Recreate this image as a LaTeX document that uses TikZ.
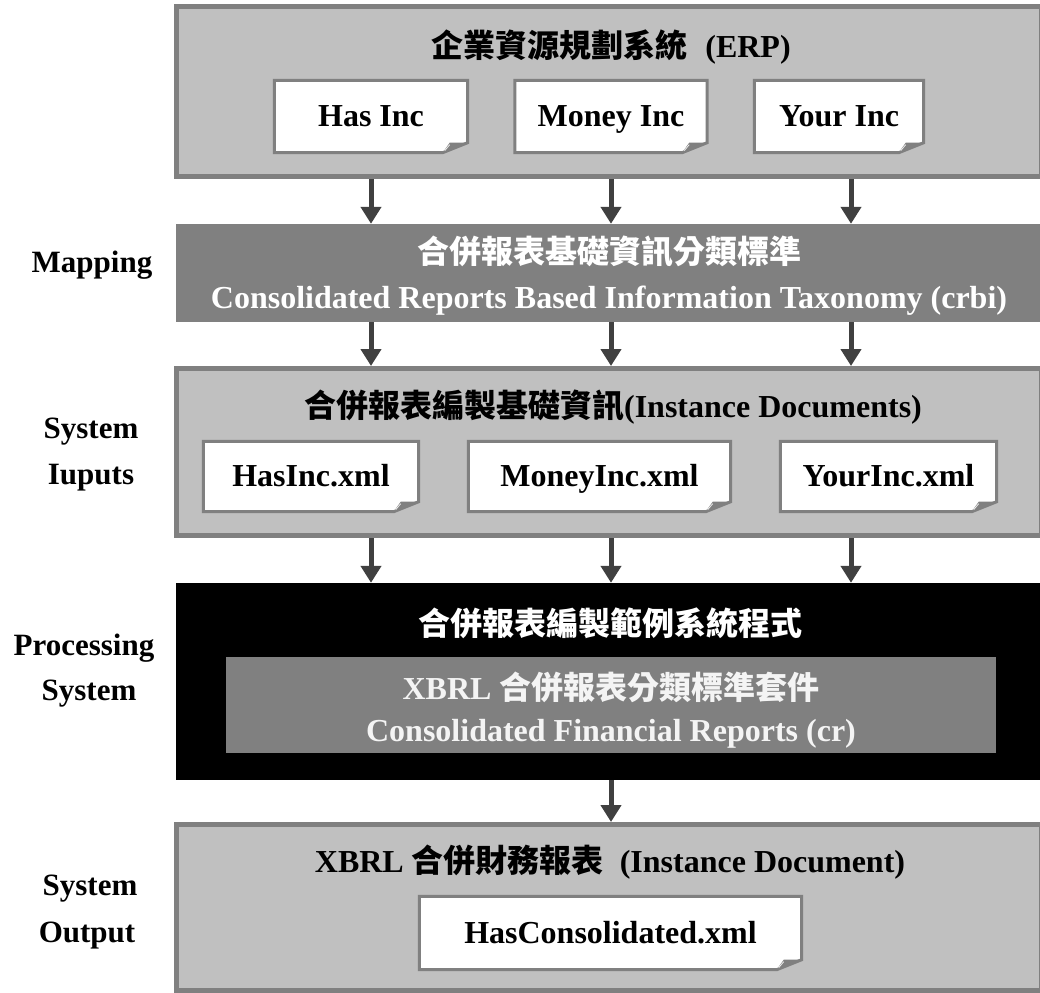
\documentclass[tikz,border=0pt]{standalone}
\usepackage{fontspec}
\setmainfont{Liberation Serif}
\newfontfamily\cjkfont{Noto Sans CJK TC}
\usetikzlibrary{arrows.meta}
\newcommand\zht[1]{{\cjkfont\bfseries #1}}
\definecolor{lightpanel}{HTML}{C0C0C0}
\definecolor{edge}{HTML}{808080}
\definecolor{arrowgray}{HTML}{404040}
\definecolor{paletext}{HTML}{F4F4F4}
\pgfdeclarelayer{back}
\pgfdeclarelayer{mid}
\pgfsetlayers{back,mid,main}

% document frame with a turned-up lower right corner
\newcommand\docframe[1]{%
  \begin{pgfonlayer}{mid}
    \draw[docframe] (#1.north west) -- (#1.north east)
      -- ([yshift=10pt]#1.south east) -- ([xshift=-25pt]#1.south east)
      -- (#1.south west) -- cycle;
    \fill[edge] ([xshift=-25pt]#1.south east) -- ([xshift=-18pt,yshift=10pt]#1.south east)
      -- ([yshift=10pt]#1.south east) -- cycle;
    \draw[white!85!edge, line width=0.8pt] ([xshift=-23pt,yshift=2pt]#1.south east)
      -- ([xshift=-18pt,yshift=8pt]#1.south east);
  \end{pgfonlayer}}

\begin{document}
\begin{tikzpicture}[x=1pt,y=-1pt,
  font=\fontsize{32}{40}\selectfont\bfseries,
  panel/.style={draw=edge, fill=lightpanel, line width=5pt, inner sep=0pt, minimum width=865pt},
  darkpanel/.style={fill=edge, inner sep=0pt},
  blackpanel/.style={fill=black, inner sep=0pt, minimum width=868pt},
  doc/.style={inner sep=0pt, text height=26pt, text depth=6pt},
  docframe/.style={draw=edge, fill=white, line width=3pt, line join=miter},
  flow/.style={draw=arrowgray, line width=5pt, -{Triangle[width=20pt,length=17pt]}},
  sidelabel/.style={anchor=base, font=\fontsize{31}{40}\selectfont\bfseries},
  title/.style={anchor=base}]
\useasboundingbox (0,0) rectangle (1040,992);
\clip (0,0) rectangle (1040,992);

% panels
\begin{pgfonlayer}{back}
  \node[panel, minimum height=170pt] (erp) at (609,91.5) {};
  \node[darkpanel, minimum width=868pt, minimum height=98pt] (map) at (610,273) {};
  \node[panel, minimum height=167pt] (inst) at (609,452) {};
  \node[blackpanel, minimum height=197pt] (proc) at (610,681.5) {};
  \node[darkpanel, minimum width=770pt, minimum height=96pt] (kit) at (611,705) {};
  \node[panel, minimum height=166pt] (out) at (609,907.5) {};
\end{pgfonlayer}

% panel titles
\node[title] (erptitle) at (611,58) {\zht{企業資源規劃系統}\hspace{18pt}(ERP)};
\node[title, text=white] (maptitle) at (609,263) {\zht{合併報表基礎資訊分類標準}};
\node[title, text=white] (mapsub) at (609,308) {Consolidated Reports Based Information Taxonomy (crbi)};
\node[title] (insttitle) at (613,417) {\zht{合併報表編製基礎資訊}(Instance Documents)};
\node[title, text=white] (proctitle) at (610,635) {\zht{合併報表編製範例系統程式}};
\node[title, text=paletext] (kittitle) at (611,699) {XBRL \zht{合併報表分類標準套件}};
\node[title, text=paletext] (kitsub) at (611,741) {Consolidated Financial Reports (cr)};
\node[title] (outtitle) at (610,872) {XBRL \zht{合併財務報表}\hspace{16pt}(Instance Document)};

% documents
\node[doc, minimum width=193pt, minimum height=72pt] (has) at (371,116.5) {Has Inc};
\node[doc, minimum width=192pt, minimum height=72pt] (money) at (611,116.5) {Money Inc};
\node[doc, minimum width=169pt, minimum height=72pt] (your) at (839,116.5) {Your Inc};
\node[doc, minimum width=215pt, minimum height=70pt] (hasx) at (311,476.5) {HasInc.xml};
\node[doc, minimum width=262pt, minimum height=70pt] (moneyx) at (599.5,476.5) {MoneyInc.xml};
\node[doc, minimum width=216pt, minimum height=70pt] (yourx) at (888.5,476.5) {YourInc.xml};
\node[doc, minimum width=382pt, minimum height=73pt] (consx) at (610.5,933) {HasConsolidated.xml};
\foreach \d in {has,money,your,hasx,moneyx,yourx,consx}{\docframe{\d}}

% side labels
\node[sidelabel] (lmap) at (92,272) {Mapping};
\node[sidelabel] (lin1) at (91,438) {System};
\node[sidelabel] (lin2) at (91,484) {Iuputs};
\node[sidelabel] (lproc1) at (84,655) {Processing};
\node[sidelabel] (lproc2) at (89,700) {System};
\node[sidelabel] (lout1) at (90,895) {System};
\node[sidelabel] (lout2) at (87,942) {Output};

% flow columns
\coordinate (ca) at (371,0);
\coordinate (cb) at (611,0);
\coordinate (cc) at (851,0);
\foreach \c in {ca,cb,cc}{
  \draw[flow] (erp.south -| \c) -- (map.north -| \c);
  \draw[flow] (map.south -| \c) -- (inst.north -| \c);
  \draw[flow] (inst.south -| \c) -- (proc.north -| \c);
}
\draw[flow] (proc.south -| cb) -- (out.north -| cb);
\end{tikzpicture}
\end{document}
